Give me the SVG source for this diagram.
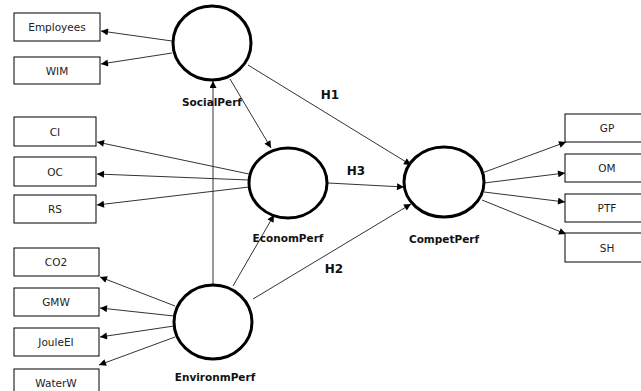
<svg xmlns="http://www.w3.org/2000/svg" width="641" height="391" viewBox="0 0 641 391">
<defs>
<marker id="ah" viewBox="0 0 10 10" refX="10" refY="5" markerWidth="9" markerHeight="7" markerUnits="userSpaceOnUse" orient="auto">
<path d="M0,0 L10,5 L0,10 z" fill="#000"/>
</marker>
<style>
.box{fill:#fff;stroke:#000;stroke-width:1}
.lv{fill:#fff;stroke:#000;stroke-width:3}
.t{font-family:"DejaVu Sans",Verdana,sans-serif;font-size:10.5px;fill:#222;text-anchor:middle}
.lb{font-family:"DejaVu Sans",Verdana,sans-serif;font-size:10.5px;font-weight:bold;fill:#111;text-anchor:middle}
.h{font-family:"DejaVu Sans",Verdana,sans-serif;font-size:12px;font-weight:bold;fill:#111;text-anchor:middle}
.c line{stroke:#333;stroke-width:1;marker-end:url(#ah)}
</style>
</defs>
<rect width="641" height="391" fill="#fff"/>
<g id="connectors" class="c">
<line x1="172" y1="41" x2="101" y2="31"/>
<line x1="172" y1="53" x2="101" y2="64"/>
<line x1="213" y1="285" x2="213" y2="81"/>
<line x1="230" y1="79" x2="271" y2="148"/>
<line x1="248" y1="65" x2="411" y2="165"/>
<line x1="249" y1="174" x2="97" y2="142"/>
<line x1="249" y1="180" x2="97" y2="174"/>
<line x1="249" y1="187" x2="97" y2="205"/>
<line x1="328" y1="183" x2="404" y2="187"/>
<line x1="233" y1="286" x2="274" y2="215"/>
<line x1="253" y1="299" x2="411" y2="204"/>
<line x1="175" y1="306" x2="100" y2="277"/>
<line x1="174" y1="316" x2="100" y2="308"/>
<line x1="174" y1="326" x2="100" y2="337"/>
<line x1="175" y1="337" x2="99" y2="365"/>
<line x1="482" y1="173" x2="566" y2="142"/>
<line x1="484" y1="183" x2="565" y2="173"/>
<line x1="484" y1="192" x2="565" y2="202"/>
<line x1="482" y1="200" x2="566" y2="234"/>
</g>
<g id="Employees"><rect class="box" x="14" y="13" width="86" height="28"/><text class="t" x="57" y="31">Employees</text></g>
<g id="WIM"><rect class="box" x="14" y="57" width="86" height="27"/><text class="t" x="57" y="75">WIM</text></g>
<g id="CI"><rect class="box" x="14" y="117" width="82" height="29"/><text class="t" x="55" y="136">CI</text></g>
<g id="OC"><rect class="box" x="14" y="157" width="82" height="29"/><text class="t" x="55" y="176">OC</text></g>
<g id="RS"><rect class="box" x="14" y="195" width="82" height="28"/><text class="t" x="55" y="213">RS</text></g>
<g id="CO2"><rect class="box" x="14" y="248" width="85" height="28"/><text class="t" x="56" y="266">CO2</text></g>
<g id="GMW"><rect class="box" x="14" y="288" width="85" height="28"/><text class="t" x="56" y="306">GMW</text></g>
<g id="JouleEI"><rect class="box" x="14" y="328" width="85" height="28"/><text class="t" x="56" y="346">JouleEI</text></g>
<g id="WaterW"><rect class="box" x="14" y="369" width="85" height="28"/><text class="t" x="56" y="387">WaterW</text></g>
<g id="GP"><rect class="box" x="565" y="114" width="80" height="28"/><text class="t" x="607" y="132">GP</text></g>
<g id="OM"><rect class="box" x="565" y="154" width="80" height="28"/><text class="t" x="607" y="172">OM</text></g>
<g id="PTF"><rect class="box" x="565" y="194" width="80" height="28"/><text class="t" x="607" y="212">PTF</text></g>
<g id="SH"><rect class="box" x="565" y="233" width="80" height="29"/><text class="t" x="607" y="252">SH</text></g>
<g id="SocialPerf"><ellipse class="lv" cx="212" cy="43" rx="39" ry="37"/><text class="lb" x="212" y="106">SocialPerf</text></g>
<g id="EconomPerf"><ellipse class="lv" cx="288" cy="183" rx="39" ry="35"/><text class="lb" x="288" y="242">EconomPerf</text></g>
<g id="CompetPerf"><ellipse class="lv" cx="444" cy="182" rx="40" ry="35"/><text class="lb" x="444" y="243">CompetPerf</text></g>
<g id="EnvironmPerf"><ellipse class="lv" cx="213" cy="322" rx="39" ry="37"/><text class="lb" x="215" y="381">EnvironmPerf</text></g>
<g id="labels">
<text class="h" x="330" y="99">H1</text>
<text class="h" x="356" y="175">H3</text>
<text class="h" x="334" y="273">H2</text>
</g>
</svg>
